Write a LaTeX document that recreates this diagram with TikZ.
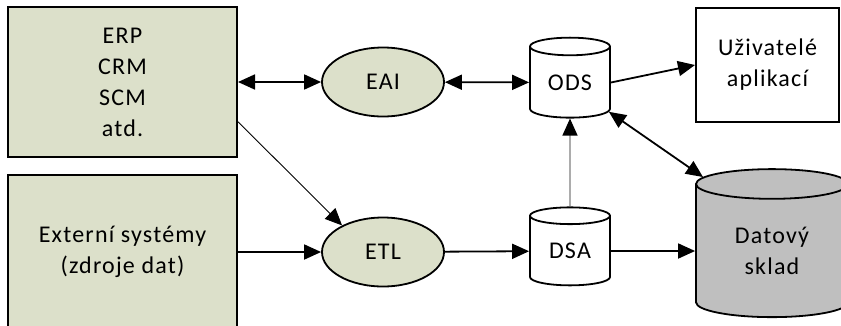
\documentclass[tikz,border=0pt]{standalone}
\usepackage{fontspec}
\setmainfont[LetterSpace=5]{Carlito}
\usepackage{xcolor}
\usepackage{tikz}
\usetikzlibrary{shapes.geometric, arrows.meta}
\definecolor{srcgreen}{RGB}{220,224,202}
\definecolor{dwgray}{RGB}{191,191,191}

\begin{document}
\begin{tikzpicture}[
        x=1pt, y=-1pt,
        font=\fontsize{24}{31}\selectfont,
        >={Triangle[length=17pt,width=15pt]},
        srcbox/.style={draw, rectangle, line width=2pt, fill=srcgreen, align=center, inner sep=0pt, minimum width=229pt, minimum height=150pt},
        appbox/.style={draw, rectangle, line width=2pt, fill=white, align=center, inner sep=0pt, minimum width=143pt, minimum height=114pt},
        procell/.style={draw, ellipse, line width=1.8pt, fill=srcgreen, inner sep=0pt, minimum width=122pt, minimum height=69pt},
        dbcyl/.style={draw, cylinder, shape border rotate=90, aspect=0.4, line width=1.8pt, fill=white, align=center, inner sep=0pt, minimum width=80pt, minimum height=80pt},
        conn/.style={line width=1.8pt}
    ]
    \useasboundingbox (0,0) rectangle (841,325);

        % Sources
        \node[srcbox] (erp) at (122.5,82) {ERP\\CRM\\SCM\\atd.};
        \node[srcbox, minimum height=154pt] (ext) at (122.5,252) {Externí systémy\\(zdroje dat)};

        % Integration
        \node[procell] (eai) at (383,82) {EAI};
        \node[procell] (etl) at (383,252) {ETL};

        % Stores
        \node[dbcyl] (ods) at (570,82.5) {ODS};
        \node[dbcyl, minimum height=78pt] (dsa) at (570,251) {DSA};
        \node[dbcyl, fill=dwgray, minimum width=152pt, minimum height=148pt] (dw) at (772,251) {Datový\\sklad};

        % Users
        \node[appbox] (app) at (767.5,65) {Uživatelé\\aplikací};

        % Connectors
        \draw[<->, conn] (erp) -- (eai);
        \draw[<->, conn] (eai) -- (ods);
        \draw[->, line width=0.9pt] (erp.-19) -- (etl.147);
        \draw[->, conn] (ext) -- (etl);
        \draw[->, conn] (etl) -- (dsa);
        \draw[->, conn] (dsa) -- (dw);
        \draw[-{Triangle[length=17pt,width=15pt,color=black,fill=black]}, gray, line width=1.2pt] (dsa) -- (ods);
        \draw[->, conn] (ods.east) -- (app.west);
        \draw[<->, conn] (ods.-37) -- (dw.133);

    \end{tikzpicture}
\end{document}
